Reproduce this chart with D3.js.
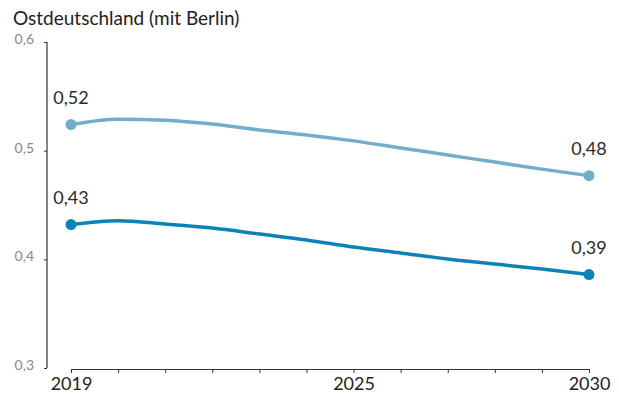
<!DOCTYPE html>
<html>
<head>
<meta charset="utf-8">
<script src="https://cdn.jsdelivr.net/npm/d3@7"></script>
<style>
  html, body { margin: 0; padding: 0; background: #fff; }
  svg { display: block; font-family: Lato, "Noto Sans", sans-serif; }
</style>
</head>
<body>
<svg id="chart" width="619" height="394"></svg>
<script>
// Years on the x axis
const years = [2019, 2020, 2021, 2022, 2023, 2024, 2025, 2026, 2027, 2028, 2029, 2030];
// Upper (light) series
const seriesUpper = [0.524, 0.529, 0.528, 0.5245, 0.519, 0.5145, 0.509, 0.5025, 0.496, 0.4895, 0.483, 0.477];
// Lower (dark) series
const seriesLower = [0.432, 0.4355, 0.4325, 0.4288, 0.4233, 0.4178, 0.4113, 0.4058, 0.4003, 0.3957, 0.391, 0.386];
// Axis labels
const yTicks = [0.3, 0.4, 0.5, 0.6];
const xTickLabels = [2019, 2025, 2030];
const title = "Ostdeutschland (mit Berlin)";

const svg = d3.select("#chart");
const fmt = v => d3.format(".2f")(v).replace(".", ",");
const fmtTick = v => d3.format(".1f")(v).replace(".", ",");

const x = d3.scaleLinear().domain([2019, 2030]).range([71, 589]);
const y = d3.scaleLinear().domain([0.3, 0.6]).range([368, 42]);

svg.append("text")
  .attr("x", 13).attr("y", 25)
  .attr("font-size", 19).attr("fill", "#222")
  .text(title);

// y axis
const yAxis = svg.append("g")
  .attr("transform", "translate(47,0)")
  .call(d3.axisLeft(y).tickValues(yTicks).tickSize(3).tickPadding(10).tickFormat(fmtTick));
yAxis.select(".domain").attr("stroke", "#333").attr("stroke-width", 1.2).attr("d", `M0,${y(0.6)}V${y(0.3)}`);
yAxis.selectAll(".tick line").attr("stroke", "#333");
yAxis.selectAll(".tick text").attr("fill", "#888").attr("font-size", 14).attr("font-weight", 400)
  .attr("font-family", "Lato, sans-serif").attr("dy", "0.1em");

// x axis: ticks every year, labels only on selected years
const xAxis = svg.append("g")
  .attr("transform", "translate(0,369)")
  .call(d3.axisBottom(x).tickValues(years).tickSize(4).tickSizeOuter(0).tickPadding(4)
    .tickFormat(d => xTickLabels.includes(d) ? String(d) : ""));
xAxis.select(".domain").attr("stroke", "#333").attr("stroke-width", 1.2);
xAxis.selectAll(".tick line").attr("stroke", "#333");
xAxis.selectAll(".tick text").attr("fill", "#222").attr("font-size", 18)
  .attr("font-family", "Lato, sans-serif");

const series = [
  { values: seriesUpper, color: "#74adcb" },
  { values: seriesLower, color: "#0b83b6" }
];

const line = d3.line()
  .x((d, i) => x(years[i]))
  .y(d => y(d))
  .curve(d3.curveMonotoneX);

series.forEach(s => {
  svg.append("path")
    .datum(s.values)
    .attr("d", line)
    .attr("fill", "none")
    .attr("stroke", s.color)
    .attr("stroke-width", 3.5)
    .attr("stroke-linecap", "round");

  const ends = [0, s.values.length - 1];
  ends.forEach(i => {
    svg.append("circle")
      .attr("cx", x(years[i])).attr("cy", y(s.values[i]))
      .attr("r", 5.5).attr("fill", s.color);
    svg.append("text")
      .attr("x", x(years[i])).attr("y", y(s.values[i]) - 21)
      .attr("text-anchor", "middle")
      .attr("font-size", 18).attr("fill", "#2a2a2a")
      .text(fmt(s.values[i]));
  });
});
</script>
</body>
</html>
